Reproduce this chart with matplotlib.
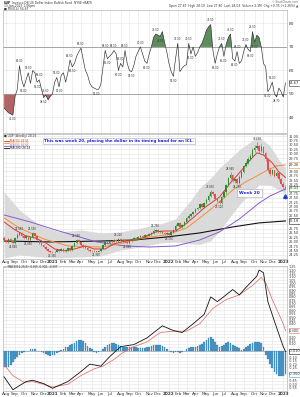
"""UUP weekly chart: RSI panel, price with moving averages and MACD."""

import matplotlib

matplotlib.use("Agg")

import matplotlib.pyplot as plt
import numpy as np
import pandas as pd
from matplotlib.patches import Rectangle
from matplotlib.ticker import FuncFormatter

plt.rcParams["font.family"] = ["DejaVu Sans"]

W, H = 300, 397

week_dates = pd.date_range("2020-07-31", "2023-01-13", freq="W-FRI")

# weekly bars
open_ = [
    25.20, 25.10, 24.99, 25.16, 25.04, 24.93, 25.22, 25.39, 25.50, 25.33,
    25.22, 25.33, 25.10, 25.27, 25.50, 25.33, 25.10, 24.93, 24.82, 24.70,
    24.59, 24.48, 24.42, 24.40, 24.42, 24.53, 24.48, 24.59, 24.48, 24.53,
    24.65, 24.53, 24.76, 24.93, 25.10, 24.99, 24.82, 24.70, 24.65, 24.53,
    24.48, 24.45, 24.48, 24.42, 24.45, 24.59, 24.82, 24.99, 24.93, 25.04,
    24.99, 25.10, 25.04, 25.16, 25.04, 25.10, 24.99, 24.93, 25.04, 25.16,
    25.22, 25.16, 25.27, 25.33, 25.27, 25.39, 25.33, 25.44, 25.50, 25.62,
    25.68, 25.55, 25.60, 25.50, 25.42, 25.48, 25.38, 25.55, 25.65, 25.92,
    26.05, 25.84, 25.95, 26.12, 26.35, 26.47, 26.58, 26.69, 26.86, 26.92,
    27.15, 26.98, 27.20, 27.37, 27.60, 27.83, 27.72, 27.43, 27.32, 27.20,
    27.55, 27.80, 28.20, 28.60, 28.80, 28.45, 28.55, 28.35, 28.70, 28.95,
    29.30, 29.50, 29.70, 29.85, 30.20, 30.35, 30.45, 30.15, 30.40, 30.05,
    29.70, 29.10, 28.85, 29.05, 28.75, 28.90, 28.55, 28.30, 28.10,
]
high = [
    25.30, 25.18, 25.22, 25.20, 25.10, 25.28, 25.48, 25.58, 25.55, 25.40,
    25.40, 25.36, 25.35, 25.55, 25.52, 25.38, 25.14, 24.98, 24.86, 24.74,
    24.62, 24.52, 24.48, 24.50, 24.60, 24.58, 24.65, 24.62, 24.58, 24.70,
    24.68, 24.82, 25.00, 25.18, 25.14, 25.02, 24.86, 24.76, 24.68, 24.58,
    24.52, 24.54, 24.50, 24.52, 24.64, 24.88, 25.06, 25.04, 25.10, 25.08,
    25.16, 25.14, 25.22, 25.20, 25.15, 25.13, 25.04, 25.09, 25.21, 25.28,
    25.26, 25.32, 25.40, 25.37, 25.45, 25.43, 25.50, 25.58, 25.70, 25.75,
    25.71, 25.66, 25.64, 25.54, 25.54, 25.52, 25.60, 25.72, 25.98, 26.12,
    26.08, 26.02, 26.20, 26.42, 26.55, 26.66, 26.76, 26.94, 27.00, 27.22,
    27.18, 27.28, 27.46, 27.70, 27.93, 27.88, 27.76, 27.50, 27.38, 27.62,
    27.88, 28.28, 28.68, 28.96, 28.84, 28.64, 28.60, 28.78, 29.05, 29.38,
    29.60, 29.80, 29.96, 30.30, 30.50, 30.67, 30.52, 30.55, 30.45, 30.12,
    29.78, 29.20, 29.15, 29.10, 29.00, 28.95, 28.60, 28.38, 28.20,
]
low = [
    25.02, 24.92, 24.95, 24.98, 24.88, 24.90, 25.18, 25.32, 25.28, 25.15,
    25.18, 25.05, 25.06, 25.22, 25.28, 25.05, 24.88, 24.76, 24.64, 24.54,
    24.42, 24.38, 24.36, 24.36, 24.40, 24.42, 24.45, 24.44, 24.44, 24.50,
    24.48, 24.50, 24.72, 24.90, 24.94, 24.76, 24.64, 24.60, 24.48, 24.43,
    24.40, 24.41, 24.39, 24.39, 24.42, 24.56, 24.78, 24.88, 24.90, 24.94,
    24.96, 25.00, 25.01, 24.99, 25.00, 24.94, 24.88, 24.90, 25.01, 25.12,
    25.11, 25.12, 25.23, 25.22, 25.24, 25.28, 25.30, 25.40, 25.46, 25.57,
    25.50, 25.50, 25.45, 25.37, 25.38, 25.33, 25.35, 25.50, 25.62, 25.88,
    25.78, 25.80, 25.90, 26.08, 26.30, 26.40, 26.52, 26.64, 26.80, 26.88,
    26.92, 26.94, 27.15, 27.32, 27.55, 27.64, 27.36, 27.25, 27.12, 27.15,
    27.50, 27.74, 28.15, 28.52, 28.38, 28.36, 28.26, 28.30, 28.64, 28.90,
    29.22, 29.42, 29.62, 29.80, 30.10, 30.25, 30.05, 30.08, 29.95, 29.60,
    28.98, 28.72, 28.78, 28.66, 28.65, 28.45, 28.20, 28.02, 27.95,
]
close = [
    25.10, 24.99, 25.16, 25.04, 24.93, 25.22, 25.39, 25.50, 25.33, 25.22,
    25.33, 25.10, 25.27, 25.50, 25.33, 25.10, 24.93, 24.82, 24.70, 24.59,
    24.48, 24.42, 24.40, 24.42, 24.53, 24.48, 24.59, 24.48, 24.53, 24.65,
    24.53, 24.76, 24.93, 25.10, 24.99, 24.82, 24.70, 24.65, 24.53, 24.48,
    24.45, 24.48, 24.42, 24.45, 24.59, 24.82, 24.99, 24.93, 25.04, 24.99,
    25.10, 25.04, 25.16, 25.04, 25.10, 24.99, 24.93, 25.04, 25.16, 25.22,
    25.16, 25.27, 25.33, 25.27, 25.39, 25.33, 25.44, 25.50, 25.62, 25.68,
    25.55, 25.60, 25.50, 25.42, 25.48, 25.38, 25.55, 25.65, 25.92, 26.05,
    25.84, 25.95, 26.12, 26.35, 26.47, 26.58, 26.69, 26.86, 26.92, 27.15,
    26.98, 27.20, 27.37, 27.60, 27.83, 27.72, 27.43, 27.32, 27.20, 27.55,
    27.80, 28.20, 28.60, 28.80, 28.45, 28.55, 28.35, 28.70, 28.95, 29.30,
    29.50, 29.70, 29.85, 30.20, 30.35, 30.45, 30.15, 30.40, 30.05, 29.70,
    29.10, 28.85, 29.05, 28.75, 28.90, 28.55, 28.30, 28.10, 28.03,
]

# top indicator panel
rsi = [
    44.0, 43.0, 42.0, 41.5, 41.0, 49.0, 52.0, 62.0, 56.0, 53.0,
    56.0, 59.0, 54.5, 60.0, 59.0, 55.0, 56.0, 52.0, 48.5, 49.5,
    47.5, 49.0, 50.0, 55.0, 57.0, 53.0, 58.0, 59.0, 55.0, 59.0,
    64.5, 61.5, 63.0, 66.0, 68.0, 69.5, 64.5, 60.0, 58.0, 54.5,
    53.0, 52.5, 52.0, 52.0, 54.0, 61.5, 68.5, 65.0, 66.0, 67.0,
    68.5, 67.0, 60.0, 63.0, 61.5, 68.5, 63.0, 60.0, 59.5, 62.0,
    66.0, 68.0, 70.0, 67.0, 64.0, 63.0, 67.0, 70.0, 74.0, 75.5,
    75.0, 74.5, 76.5, 72.0, 68.0, 63.0, 59.5, 57.5, 65.0, 71.5,
    59.5, 61.0, 62.0, 62.5, 71.5, 67.0, 70.0, 66.0, 67.5, 70.0,
    71.5, 74.0, 77.0, 78.5, 79.5, 68.5, 63.0, 67.0, 70.0, 71.5,
    66.0, 71.0, 74.0, 75.5, 65.0, 64.0, 68.0, 63.0, 64.0, 68.0,
    71.0, 69.0, 68.0, 76.5, 72.0, 75.0, 74.0, 70.0, 63.0, 61.5,
    51.0, 52.5, 55.0, 50.0, 48.7, 52.5, 51.0, 48.7, 54.67,
]

# moving averages / band, read at sample weeks
red_weeks = [0, 5, 10, 14, 19, 23, 28, 32, 37, 41, 46, 50, 55, 60, 64,
             69, 73, 78, 82, 87, 91, 98, 103, 107, 112, 115, 118, 122, 125, 128]
red_ma = [26.12, 25.67, 25.33, 25.22, 24.93, 24.59, 24.48, 24.59, 24.76, 24.59,
          24.59, 24.88, 25.04, 25.10, 25.27, 25.56, 25.61, 25.61, 25.95, 26.47,
          26.92, 27.54, 28.35, 28.91, 29.65, 30.05, 29.93, 29.48, 28.97, 28.65]
orange_weeks = [0, 7, 18, 29, 44, 53, 59, 66, 74, 83, 92, 98, 104, 110, 115, 120, 124, 128]
orange_ma = [26.35, 25.78, 25.16, 24.76, 24.70, 24.88, 25.10, 25.27, 25.39,
             25.78, 26.64, 27.26, 27.94, 28.40, 28.74, 29.08, 29.31, 29.36]
purple_weeks = [0, 12, 25, 42, 55, 66, 78, 89, 98, 107, 116, 121, 128]
purple_ma = [26.52, 26.12, 25.61, 24.99, 24.76, 24.70, 24.76, 25.10, 25.56,
             26.29, 27.20, 27.60, 28.00]
black_weeks = [0, 21, 44, 59, 74, 89, 104, 116, 128]
black_ma = [25.04, 24.99, 25.04, 25.10, 25.27, 25.50, 25.84, 26.07, 26.18]
bb_weeks = [0, 7, 16, 25, 35, 44, 53, 62, 71, 78, 85, 89, 94, 98, 103, 107,
            112, 116, 121, 125, 128]
bb_upper = [27.83, 26.80, 25.95, 25.56, 25.67, 25.50, 25.56, 25.78, 26.01, 26.30,
            27.37, 28.06, 28.62, 29.19, 29.76, 30.22, 30.67, 30.95, 30.44, 29.65, 29.19]
bb_lower = [24.08, 24.25, 24.14, 24.08, 24.14, 24.19, 24.53, 24.70, 24.93, 24.99,
            24.88, 24.85, 25.05, 25.60, 26.45, 27.09, 27.77, 28.23, 28.23, 27.94, 27.77]

# MACD panel
macd_weeks = [0, 4, 10, 13, 18, 22, 29, 35, 39, 44, 48, 53, 59, 65, 72, 77,
              81, 86, 91, 94, 97, 101, 104, 107, 110, 115, 116, 118, 120, 124, 127, 128]
macd_line = [-0.39, -0.58, -0.46, -0.44, -0.49, -0.56, -0.46, -0.31, -0.20, -0.23,
             -0.09, 0.06, 0.09, 0.19, 0.37, 0.30, 0.27, 0.40, 0.54, 0.80, 0.73,
             0.83, 0.91, 0.83, 0.94, 1.11, 1.20, 1.16, 0.73, 0.34, 0.06, -0.01]
signal_weeks = [0, 4, 9, 13, 18, 22, 29, 35, 41, 45, 50, 54, 59, 65, 71, 77,
                83, 89, 95, 101, 107, 113, 117, 119, 122, 127, 128]
signal_line = [-0.21, -0.37, -0.47, -0.46, -0.50, -0.54, -0.50, -0.37, -0.27,
               -0.23, -0.13, -0.03, 0.06, 0.13, 0.27, 0.29, 0.29, 0.40, 0.63,
               0.76, 0.83, 0.97, 1.09, 1.01, 0.76, 0.40, 0.30]
macd_hist = [
    -0.25, -0.25, -0.24, -0.21, -0.17, -0.13, -0.10, -0.07, -0.04, -0.02,
    -0.01, 0.00, 0.02, 0.02, 0.02, 0.00, -0.01, -0.02, -0.03, -0.05,
    -0.07, -0.08, -0.07, -0.06, -0.04, -0.02, 0.01, 0.02, 0.05, 0.06,
    0.08, 0.10, 0.12, 0.14, 0.16, 0.16, 0.15, 0.11, 0.07, 0.04,
    0.02, -0.02, -0.03, -0.02, -0.01, 0.03, 0.06, 0.09, 0.10, 0.11,
    0.11, 0.10, 0.09, 0.07, 0.06, 0.05, 0.05, 0.06, 0.06, 0.05,
    0.05, 0.04, 0.04, 0.04, 0.04, 0.05, 0.06, 0.07, 0.08, 0.09,
    0.09, 0.08, 0.07, 0.05, 0.03, -0.01, -0.02, -0.03, -0.02, -0.02,
    -0.03, -0.02, -0.01, 0.02, 0.04, 0.05, 0.06, 0.06, 0.07, 0.08,
    0.10, 0.13, 0.16, 0.19, 0.20, 0.18, 0.13, 0.08, 0.05, 0.07,
    0.09, 0.11, 0.13, 0.12, 0.09, 0.07, 0.06, 0.04, 0.01, 0.03,
    0.05, 0.07, 0.10, 0.12, 0.13, 0.13, 0.13, 0.12, 0.05, -0.07,
    -0.12, -0.20, -0.26, -0.31, -0.35, -0.37, -0.38, -0.37, -0.35,
]

GRID = "#e4e4e4"
TXT = "#333333"
BLUE_TXT = "#1f1fd0"


def fig_box(x0, y0, x1, y1):
    return [x0 / W, 1 - y1 / H, (x1 - x0) / W, (y1 - y0) / H]


def fig_xy(x, y):
    return x / W, 1 - y / H


def style_panel(ax, month_idx, month_lbl, show_labels):
    ax.set_xlim(-0.5, 128.7)
    ax.yaxis.tick_right()
    ax.tick_params(axis="y", labelsize=2.8, length=0, pad=1.2, colors=TXT)
    ax.tick_params(axis="x", labelsize=3.0, length=0, pad=1.0, colors=TXT)
    for spine in ax.spines.values():
        spine.set_color("#b5b5b5")
        spine.set_linewidth(0.5)
    ax.set_xticks(month_idx)
    if show_labels:
        ax.set_xticklabels(month_lbl)
        for lbl in ax.get_xticklabels():
            if lbl.get_text().isdigit():
                lbl.set_fontweight("bold")
    else:
        ax.set_xticklabels([])
    ax.grid(True, color=GRID, linewidth=0.4)
    ax.set_axisbelow(True)


def tick_fmt(fmt, boxed, gap):
    # the value boxes sit on top of the axis labels, so leave those labels blank
    def _f(v, _pos):
        if any(abs(v - b) < gap for b in boxed):
            return ""
        return fmt % v
    return FuncFormatter(_f)


def value_box(ax, y, text, edge):
    ax.annotate(text, xy=(1.0, y), xycoords=("axes fraction", "data"),
                xytext=(1.5, 0), textcoords="offset points", fontsize=2.6,
                va="center", ha="left", color=TXT,
                bbox=dict(boxstyle="square,pad=0.15", fc="white", ec=edge, lw=0.4))


def label_points(ax, pts, fmt, dy, min_dx, min_dy):
    """pts: (index, value, is_high). Skips labels that would sit on the previous one."""
    last = {True: None, False: None}
    for i, v, is_high in pts:
        prev = last[is_high]
        if prev is not None and i - prev[0] < min_dx and abs(v - prev[1]) < min_dy:
            continue
        last[is_high] = (i, v)
        ax.text(i, v + (dy if is_high else -dy), fmt % v, ha="center",
                va="bottom" if is_high else "top", fontsize=1.9, color=TXT, zorder=5)


def main():
    n = len(close)
    x = np.arange(n)
    o = np.array(open_)
    c = np.array(close)
    hi = np.array(high)
    lo = np.array(low)
    r = np.array(rsi)

    months = pd.date_range("2020-08-01", "2023-01-01", freq="MS")
    month_idx = [int(np.searchsorted(week_dates, m)) for m in months]
    month_lbl = [str(m.year) if m.month == 1 else m.strftime("%b") for m in months]

    fig = plt.figure(figsize=(W / 100, H / 100), dpi=100)
    ax_top = fig.add_axes(fig_box(3, 10, 287, 133))
    ax_px = fig.add_axes(fig_box(3, 134, 287, 259))
    ax_macd = fig.add_axes(fig_box(3, 266, 287, 391))

    # --- top indicator ---
    style_panel(ax_top, month_idx, month_lbl, False)
    ax_top.set_ylim(33.4, 85.7)
    ax_top.set_yticks([40, 50, 60, 70, 80])
    ax_top.yaxis.set_major_formatter(tick_fmt("%d", [r[-1]], 3.0))
    ax_top.tick_params(axis="y", labelsize=3.2)
    ax_top.fill_between(x, r, 70, where=r >= 70, interpolate=True, color="#5d8c5d", lw=0)
    ax_top.fill_between(x, r, 50, where=r <= 50, interpolate=True, color="#b26464", lw=0)
    ax_top.axhline(70, color="#9a9a9a", lw=0.6)
    ax_top.axhline(50, color="#9a9a9a", lw=0.6)
    ax_top.plot(x, r, color="#2b2b2b", lw=0.45)
    top_pts = []
    for i in range(1, n - 1):
        if r[i] > r[i - 1] and r[i] >= r[i + 1]:
            top_pts.append((i, r[i], True))
        elif r[i] < r[i - 1] and r[i] <= r[i + 1]:
            top_pts.append((i, r[i], False))
    label_points(ax_top, top_pts, "%.2f", 1.0, 4, 3.5)
    value_box(ax_top, r[-1], f"{r[-1]:.2f}", "#333333")

    # --- price panel ---
    style_panel(ax_px, month_idx, month_lbl, True)
    ax_px.set_ylim(24.02, 31.12)
    ax_px.set_yticks(np.arange(24.25, 31.01, 0.25))
    ax_px.yaxis.set_major_formatter(
        tick_fmt("%.2f", [orange_ma[-1], close[-1], black_ma[-1]], 0.2))
    ax_px.tick_params(axis="y", labelsize=2.5)
    ax_px.fill_between(bb_weeks, bb_lower, bb_upper, color="#dadada", lw=0, zorder=1)
    ax_px.plot(black_weeks, black_ma, color="#111111", lw=0.8, zorder=2)
    ax_px.plot(purple_weeks, purple_ma, color="#8a5ccc", lw=0.7, zorder=2)
    ax_px.plot(orange_weeks, orange_ma, color="#f0903a", lw=0.7, zorder=2)
    ax_px.plot(red_weeks, red_ma, color="#d83a3a", lw=0.7, zorder=2)
    up = c >= o
    colors = np.where(up, "#2e8b2e", "#e0504f")
    ax_px.vlines(x, lo, hi, colors=colors, lw=0.4, zorder=3)
    ax_px.bar(x, np.maximum(np.abs(c - o), 0.015), bottom=np.minimum(o, c), width=0.7,
              color=colors, lw=0, zorder=4)
    px_pts = []
    for i in range(3, n - 2):
        a, b = max(0, i - 3), min(n, i + 4)
        if hi[i] == hi[a:b].max() and hi[i] > hi[a:i].max():
            px_pts.append((i, hi[i], True))
        if lo[i] == lo[a:b].min() and lo[i] < lo[a:i].min():
            px_pts.append((i, lo[i], False))
    label_points(ax_px, px_pts, "%.3f", 0.05, 4, 0.25)
    value_box(ax_px, orange_ma[-1], f"{orange_ma[-1]:.2f}", "#f0903a")
    value_box(ax_px, c[-1], f"{c[-1]:.2f}", "#2e8b2e")
    value_box(ax_px, black_ma[-1], f"{black_ma[-1]:.2f}", "#111111")

    # blue marker near last bar
    ax_px.plot([127.6], [27.62], marker="^", ms=2.6, color="#1f3fd0", zorder=6)
    ax_px.vlines([127.6], 27.45, 27.62, colors="#1f3fd0", lw=0.6, zorder=6)

    # legend of price panel
    fig.text(*fig_xy(4, 135.5), "\u25a0 UUP (Weekly) 28.03", fontsize=2.1, color=TXT, va="center")
    legend_rows = [
        ("MA(10) 28.65", "#d83a3a", 140.5),
        ("MA(20) 29.36", "#f0903a", 143.0),
        ("MA(50) 28.00", "#8a5ccc", 145.5),
        ("MA(200) 26.18", "#111111", 148.0),
    ]
    for label, col, yy in legend_rows:
        fig.lines.append(plt.Line2D([4 / W, 9 / W], [1 - yy / H] * 2, color=col, lw=0.6,
                                    transform=fig.transFigure))
        fig.text(*fig_xy(10, yy), label, fontsize=2.0, color=col, va="center")

    fig.text(*fig_xy(44, 141), "This was week 20, placing the dollar in its timing band for an ICL.",
             fontsize=2.9, color=BLUE_TXT, fontweight="bold", va="center",
             bbox=dict(boxstyle="square,pad=0.3", fc="white", ec="#a8a8c8", lw=0.4))

    fig.patches.append(Rectangle(fig_xy(237, 196.5), 25 / W, 7.5 / H, transform=fig.transFigure,
                                 fc="white", ec="#a8a8a8", lw=0.4, zorder=8))
    fig.text(*fig_xy(239, 192.8), "Week 20", fontsize=3.1, color=BLUE_TXT,
             fontweight="bold", va="center", zorder=9)

    # --- MACD panel ---
    style_panel(ax_macd, month_idx, month_lbl, True)
    ax_macd.set_ylim(-0.60, 1.26)
    ax_macd.set_yticks(np.arange(-0.55, 1.26, 0.05))
    ax_macd.yaxis.set_major_formatter(
        tick_fmt("%.2f", [signal_line[-1], macd_line[-1], macd_hist[-1]], 0.07))
    ax_macd.tick_params(axis="y", labelsize=2.4)
    ax_macd.bar(x, macd_hist, width=0.75, color="#4a97c9", edgecolor="#2f6f9f", lw=0.15, zorder=2)
    ax_macd.axhline(0, color="#9a9a9a", lw=0.4, zorder=1)
    ax_macd.plot(signal_weeks, signal_line, color="#e0706a", lw=0.55, zorder=3)
    ax_macd.plot(macd_weeks, macd_line, color="#111111", lw=0.6, zorder=4)
    value_box(ax_macd, signal_line[-1], f"{signal_line[-1]:.3f}", "#e0706a")
    value_box(ax_macd, macd_line[-1], f"{macd_line[-1]:.3f}", "#111111")
    value_box(ax_macd, macd_hist[-1], f"{macd_hist[-1]:.3f}", "#4a97c9")
    fig.text(*fig_xy(4, 267), "\u2014 MACD(12,26,9) -0.005, 0.302, -0.307", fontsize=2.0,
             color=TXT, va="center")

    # header
    fig.text(*fig_xy(4, 2.5), "UUP", fontsize=2.3, fontweight="bold", color=TXT, va="center")
    fig.text(*fig_xy(12, 2.5), "Invesco DB US Dollar Index Bullish Fund  NYSE+BATS",
             fontsize=2.2, color=TXT, va="center")
    fig.text(*fig_xy(4, 5.8), "13-Jan-2023 1:06pm", fontsize=2.2, color=TXT, va="center")
    fig.text(*fig_xy(4, 9.0), "\u25a0 RSI(14) 54.67", fontsize=2.2, color=TXT, va="center")
    fig.text(*fig_xy(298, 1.8), "\u00a9 StockCharts.com", fontsize=1.9, color="#666666",
             va="center", ha="right")
    fig.text(*fig_xy(298, 5.5),
             "Open 27.87  High 28.10  Low 27.80  Last 28.03  Volume 2.1M  Chg +0.35 (+1.26%) \u25b2",
             fontsize=2.2, color=TXT, va="center", ha="right")

    fig.savefig("out.png", dpi=100)


if __name__ == "__main__":
    main()
